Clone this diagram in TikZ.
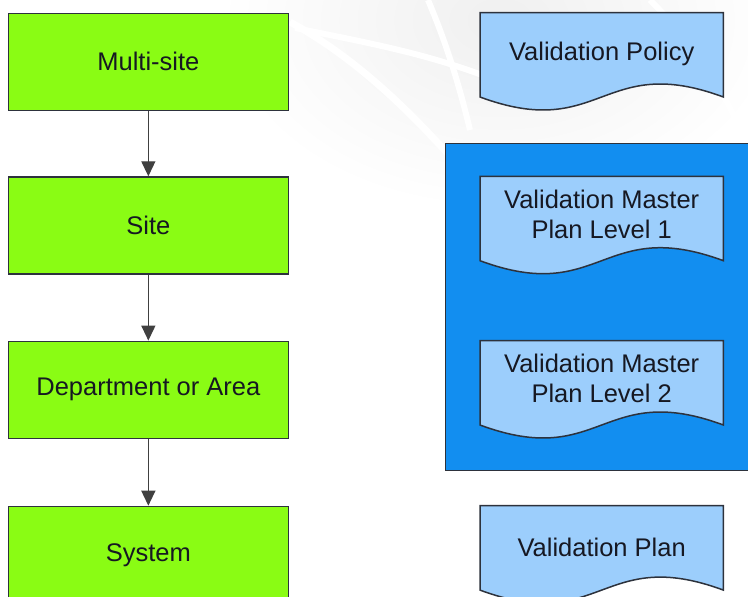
\documentclass[tikz,border=0pt]{standalone}
\usepackage{fontspec}
\setmainfont{Liberation Sans}
\usetikzlibrary{arrows.meta,backgrounds,calc}
\definecolor{boxgreen}{RGB}{138,252,20}
\definecolor{doclight}{RGB}{156,206,252}
\definecolor{groupblue}{RGB}{18,142,240}
\definecolor{edgedark}{RGB}{45,50,60}
\definecolor{txt}{RGB}{22,24,34}
\newcommand\docoutline[1]{%
  \filldraw[docline] (#1.north west) -- (#1.north east) -- ($(#1.south east)+(0,9)$)
    .. controls ($(#1.south east)+(-121.5,-36)$) and ($(#1.south west)+(121.5,54)$) .. ($(#1.south west)+(0,9)$)
    -- cycle;}
\newcommand\lowertxt[1]{\raisebox{-4pt}[\height][\depth]{#1}}
\begin{document}
\begin{tikzpicture}[x=1pt,y=-1pt,
  every node/.style={font=\fontsize{25.5}{30}\selectfont, text=txt, align=center, inner sep=0pt},
  gbox/.style={draw=edgedark, line width=1.5pt, fill=boxgreen, minimum width=280pt, minimum height=97pt, anchor=north west},
  doctext/.style={minimum width=243pt, minimum height=75pt, anchor=north west},
  docline/.style={draw=edgedark, line width=1.5pt, fill=doclight},
  groupbox/.style={draw=edgedark, line width=1.5pt, fill=groupblue, minimum width=330pt, minimum height=327pt, anchor=north west},
  arr/.style={draw=black!75, line width=1.3pt, -{Triangle[length=15pt,width=14pt]}}]
\useasboundingbox (0,0) rectangle (748,597);
\clip (0,0) rectangle (748,597);
% left column
\node[gbox] (ms) at (7.6,12.6) {Multi-site};
\node[gbox] (site) at (7.6,176.3) {Site};
\node[gbox] (dept) at (7.6,340.6) {Department or Area};
\node[gbox] (sys) at (7.6,505.7) {System};
\draw[arr] (ms.south) -- (site.north);
\draw[arr] (site.south) -- (dept.north);
\draw[arr] (dept.south) -- (sys.north);
% right column texts
\node[doctext] (vp) at (480,12.6) {\lowertxt{Validation Policy}};
\node[doctext] (vmp1) at (480,176.3) {Validation Master\\Plan Level 1};
\node[doctext] (vmp2) at (480,340.6) {Validation Master\\Plan Level 2};
\node[doctext] (vpl) at (480,505.7) {\lowertxt{Validation Plan}};
\begin{scope}[on background layer]
  \shade[inner color=black!6, outer color=white] (500,20) ellipse (280 and 190);
  \draw[white, line width=7pt] (290,22) .. controls (360,60) and (420,120) .. (475,185);
  \draw[white, line width=6pt] (295,28) .. controls (380,45) and (430,55) .. (490,78);
  \draw[white, line width=6pt] (428,0) .. controls (445,40) and (458,80) .. (470,130);
  \draw[white, line width=6pt] (650,0) .. controls (700,50) and (730,100) .. (748,150);
  \node[groupbox] (grp) at (444.7,142.5) {};
  \docoutline{vp}
  \docoutline{vmp1}
  \docoutline{vmp2}
  \docoutline{vpl}
\end{scope}
\end{tikzpicture}
\end{document}
